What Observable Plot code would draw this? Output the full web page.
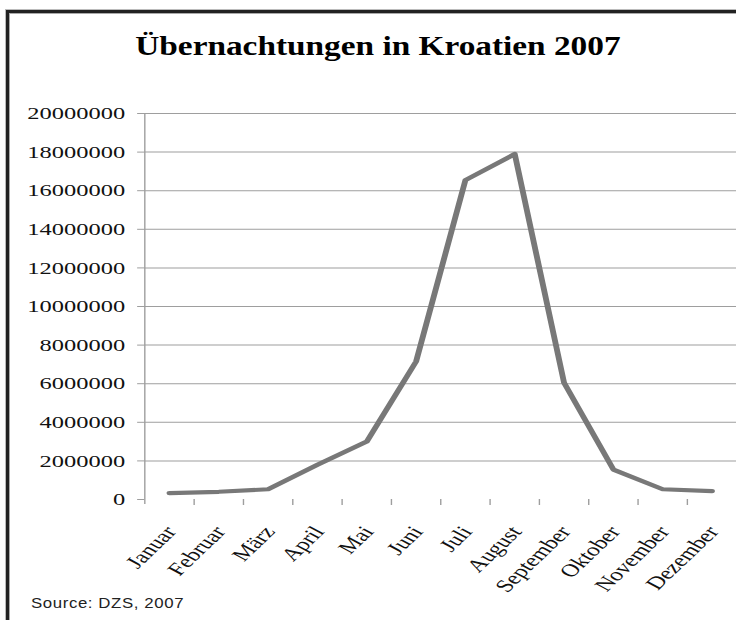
<!DOCTYPE html>
<html><head><meta charset="utf-8">
<script src="https://cdn.jsdelivr.net/npm/d3@7"></script>
<script src="https://cdn.jsdelivr.net/npm/@observablehq/plot@0.6"></script>
<style>
html,body{margin:0;padding:0;background:#fff;}
#page{position:relative;width:736px;height:620px;overflow:hidden;background:#fff;}
#frame{position:absolute;left:6px;top:10px;width:800px;height:700px;border-left:3px solid #222;border-top:3px solid #222;box-shadow:inset 1px 1px 0 #aaa,-1px -1px 0 #bbb;}
#title{position:absolute;left:0;top:32px;width:755px;text-align:center;font-family:"Liberation Serif","Times New Roman",serif;font-weight:bold;font-size:28px;line-height:1;color:#000;white-space:nowrap;}
#title span{display:inline-block;transform:scaleX(1.19);transform-origin:center;}
#chart{position:absolute;left:0;top:90px;width:526px;transform:scaleX(1.39924);transform-origin:0 0;}
#source{position:absolute;left:31px;top:596px;font-family:"Liberation Sans",Arial,sans-serif;font-size:14px;line-height:1;letter-spacing:0.5px;color:#222;transform:scaleX(1.2);transform-origin:0 0;white-space:nowrap;}
</style>
</head><body>
<div id="page">
  <div id="frame"></div>
  <div id="title"><span>Übernachtungen in Kroatien 2007</span></div>
  <div id="chart"></div>
  <div id="source">Source: DZS, 2007</div>
</div>
<script>
const months = ["Januar","Februar","März","April","Mai","Juni","Juli","August","September","Oktober","November","Dezember"];
const nights = [330000, 400000, 530000, 1800000, 3000000, 7150000, 16550000, 17900000, 6050000, 1550000, 530000, 430000];
const yTicks = [0, 2000000, 4000000, 6000000, 8000000, 10000000, 12000000, 14000000, 16000000, 18000000, 20000000];

const data = months.map((m, i) => ({i, month: m, value: nights[i]}));
const catIdx = months.map((m, i) => i);
const boundaries = months.map((m, i) => i + 0.5);
const gridTicks = yTicks.filter(v => v > 0);

const chart = Plot.plot({
  width: 526,
  height: 530,
  marginLeft: 103,
  marginRight: 0,
  marginTop: 23,
  marginBottom: 121,
  style: {fontFamily: "'Liberation Serif','Times New Roman',serif", fontSize: "17px", color: "#111", background: "transparent", overflow: "visible"},
  x: {domain: [-0.5, 11.5], axis: null},
  y: {domain: [0, 20000000], axis: null},
  marks: [
    Plot.gridY(gridTicks, {stroke: "#9e9e9e", strokeOpacity: 1}),
    Plot.ruleX([-0.5], {stroke: "#9e9e9e", insetBottom: -5}),
    Plot.axisY(yTicks, {tickSize: 5, tickPadding: 9, stroke: "#9e9e9e", fill: "#111", fontSize: 17.5, tickFormat: d => String(d), label: null}),
    Plot.axisX(boundaries, {tickSize: 6, stroke: "#9e9e9e", tickFormat: () => "", label: null}),
    Plot.axisX(catIdx, {tickSize: 0, tickPadding: 29, dx: 1, tickRotate: -53, tickFormat: i => months[i], fill: "#111", fontSize: 18, label: null}),
    Plot.line(data, {x: "i", y: "value", stroke: "#787878", strokeWidth: 4.2})
  ]
});
document.getElementById("chart").appendChild(chart);
</script>
</body></html>
